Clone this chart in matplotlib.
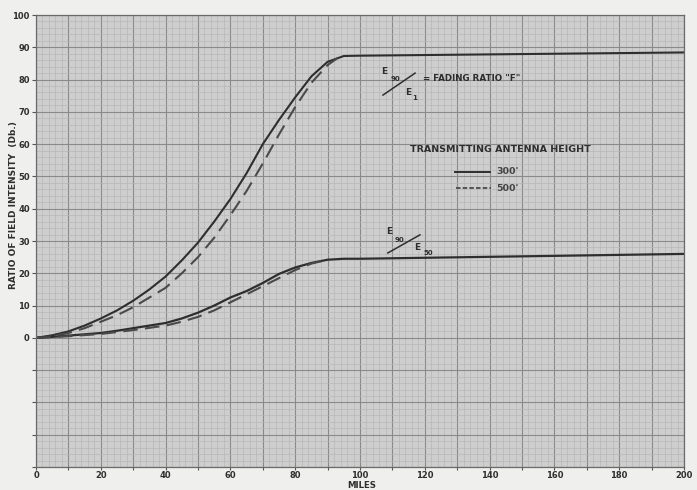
import matplotlib
matplotlib.use("Agg")
import matplotlib.pyplot as plt
from matplotlib.ticker import MultipleLocator, FuncFormatter

# ---- data ----
x_up_300 = [0, 5, 10, 15, 20, 25, 30, 35, 40, 45, 50, 55, 60, 65, 70, 75, 80, 85, 90, 95, 100, 120, 140, 160, 180, 200]
y_up_300 = [0, 0.8, 2, 3.8, 6, 8.5, 11.5, 15, 19, 24, 29.5, 36, 43, 51, 60, 67.5, 74.5, 81, 85.5, 87.3, 87.4, 87.6, 87.8, 88.0, 88.2, 88.4]

x_up_500 = [0, 5, 10, 15, 20, 25, 30, 35, 40, 45, 50, 55, 60, 65, 70, 75, 80, 85, 90, 94]
y_up_500 = [0, 0.5, 1.5, 3, 5, 7, 9.5, 12.5, 15.5, 20, 25, 31, 38, 45.5, 54, 63, 71.5, 79, 84.5, 87.3]

x_lo_300 = [0, 5, 10, 15, 20, 25, 30, 35, 40, 45, 50, 55, 60, 65, 70, 75, 80, 85, 90, 95, 100, 120, 140, 160, 180, 200]
y_lo_300 = [0, 0.3, 0.7, 1.1, 1.5, 2.2, 3, 3.8, 4.6, 6, 7.8, 10, 12.5, 14.5, 17, 19.8, 21.8, 23.2, 24.2, 24.5, 24.5, 24.8, 25.1, 25.4, 25.7, 26.0]

x_lo_500 = [0, 10, 20, 30, 40, 45, 50, 55, 60, 65, 70, 75, 80, 85, 90]
y_lo_500 = [0, 0.5, 1.2, 2.4, 3.8, 5, 6.5, 8.5, 11, 13.5, 16, 18.5, 21, 23, 24.2]

x_ticks = [0, 20, 40, 60, 80, 100, 120, 140, 160, 180, 200]
y_ticks = [0, 10, 20, 30, 40, 50, 60, 70, 80, 90, 100]
legend_labels = ["300'", "500'"]

ink = "#2e2e2e"
plt.rcParams['font.family'] = ['DejaVu Sans']
fig = plt.figure(figsize=(6.97, 4.90), dpi=100, facecolor="#efefed")
ax = fig.add_axes([36 / 697, 1 - 467 / 490, (684 - 36) / 697, (467 - 15) / 490])
ax.set_facecolor("#cecece")
ax.set_xlim(0, 200)
ax.set_ylim(-40, 100)

# graph-paper grid
ax.xaxis.set_major_locator(MultipleLocator(10))
ax.yaxis.set_major_locator(MultipleLocator(10))
ax.xaxis.set_minor_locator(MultipleLocator(2))
ax.yaxis.set_minor_locator(MultipleLocator(2))
ax.grid(which="major", color="#8a8a8a", lw=0.8)
ax.grid(which="minor", color="#b6b6b6", lw=0.45)
ax.set_axisbelow(True)
ax.xaxis.set_major_formatter(FuncFormatter(lambda v, p: f"{int(v)}" if int(round(v)) % 20 == 0 else ""))
ax.yaxis.set_major_formatter(FuncFormatter(lambda v, p: f"{int(v)}" if v >= 0 else ""))
ax.tick_params(which="major", length=3, width=0.8, color="#555555", labelsize=6, labelcolor=ink, pad=1.5)
ax.tick_params(axis="x", which="major", length=2, pad=1)
ax.tick_params(which="minor", length=0)
for lbl in ax.get_xticklabels() + ax.get_yticklabels():
    lbl.set_fontweight("bold")
for s in ax.spines.values():
    s.set_color("#6a6a6a")
    s.set_linewidth(0.9)

# curves
ax.plot(x_up_300, y_up_300, color=ink, lw=1.5, solid_capstyle="round")
ax.plot(x_up_500, y_up_500, color="#4a4a4a", lw=1.5, dashes=(7, 3.5))
ax.plot(x_lo_300, y_lo_300, color=ink, lw=1.6)
ax.plot(x_lo_500, y_lo_500, color="#4a4a4a", lw=1.5, dashes=(7, 3.5))

# axis labels
fig.text(362 / 697, 1 - 485.5 / 490, "MILES", fontsize=6.2, fontweight="bold", color=ink,
         ha="center", va="center")
fig.text(14 / 697, 1 - 205 / 490, "RATIO OF FIELD INTENSITY  (Db.)", rotation=90, ha="center", va="center",
         fontsize=6.5, fontweight="bold", color=ink)

# fading ratio annotation
tk = dict(color=ink, fontweight="bold")
ax.text(106.5, 82.5, "E", fontsize=6.5, ha="left", va="center", **tk)
ax.text(109.3, 80.2, "90", fontsize=5, ha="left", va="center", **tk)
ax.plot([107.1, 117.0], [75.2, 82.0], color=ink, lw=1.1)
ax.text(113.8, 76.0, "E", fontsize=6.5, ha="left", va="center", **tk)
ax.text(116.2, 74.4, "1", fontsize=5, ha="left", va="center", **tk)
ax.text(119.3, 80.2, "= FADING RATIO \"F\"", fontsize=6.3, ha="left", va="center", **tk)

ax.text(108.2, 32.8, "E", fontsize=6.5, ha="left", va="center", **tk)
ax.text(110.6, 30.2, "90", fontsize=5, ha="left", va="center", **tk)
ax.plot([108.6, 118.5], [26.3, 31.9], color=ink, lw=1.1)
ax.text(116.6, 28.0, "E", fontsize=6.5, ha="left", va="center", **tk)
ax.text(119.6, 26.2, "50", fontsize=5, ha="left", va="center", **tk)

# legend
ax.text(115.4, 58.2, "TRANSMITTING ANTENNA HEIGHT", fontsize=6.8, ha="left", va="center", **tk)
ax.plot([129.3, 140.1], [51.4, 51.4], color=ink, lw=1.4)
ax.text(142.2, 51.4, legend_labels[0], fontsize=6.8, ha="left", va="center", color="#444444", fontweight="bold")
ax.plot([129.6, 140.4], [46.4, 46.4], color="#4a4a4a", lw=1.3, dashes=(2.5, 1.2))
ax.text(142.2, 46.4, legend_labels[1], fontsize=6.8, ha="left", va="center", color="#444444", fontweight="bold")

fig.savefig("out.png", dpi=100, facecolor=fig.get_facecolor())
